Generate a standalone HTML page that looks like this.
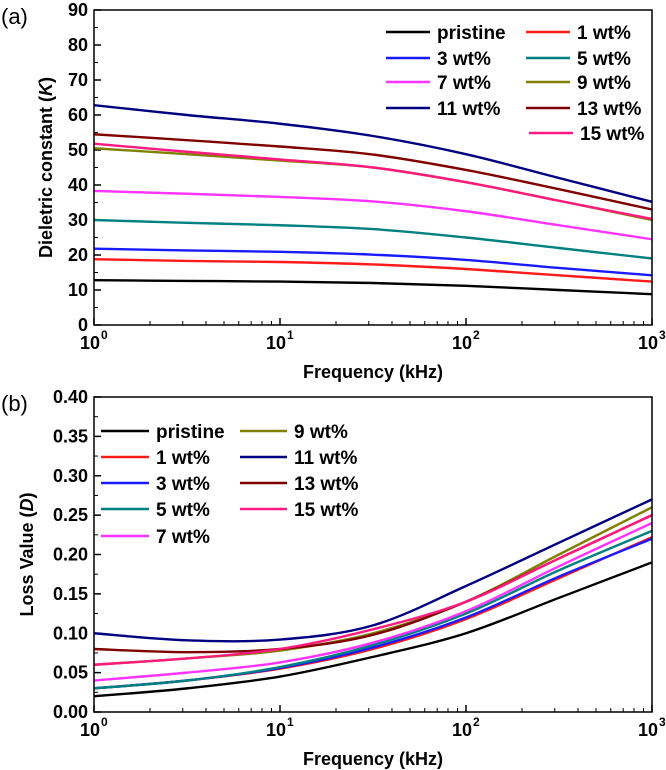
<!DOCTYPE html>
<html><head><meta charset="utf-8"><style>
body{margin:0;background:#fff}
svg{display:block;font-family:"Liberation Sans",Arial,sans-serif}
</style></head><body>
<svg id="s" width="666" height="770" viewBox="0 0 666 770"></svg>
<script>
const names=["pristine","1 wt%","3 wt%","5 wt%","7 wt%","9 wt%","11 wt%","13 wt%","15 wt%"];
const colors=["#000000","#ff1a1a","#1a1aff","#008080","#ff33ff","#808000","#000080","#800000","#ff1a80"];
const kLogF=[0,0.5,1,1.5,2,2.5,3];
const kPristine=[12.8,12.6,12.4,12,11.2,10,8.8];
const k1=[18.8,18.3,18,17.3,16,14.2,12.4];
const k3=[21.8,21.3,20.9,20.1,18.6,16.3,14.2];
const k5=[30,29.2,28.5,27.4,25,22,19];
const k7=[38.3,37.5,36.6,35.3,32.5,28.5,24.5];
const k9=[50.5,48.8,47,45,40.8,35.5,30];
const k11=[62.8,60,57.5,54,48.8,42,35.2];
const k13=[54.5,52.8,51,48.7,44.3,38.8,33];
const k15=[51.8,49.5,47.3,45,40.8,35.5,30.3];
const dLogF=[0,0.5,1,1.5,2,2.5,3];
const dPristine=[0.02,0.03,0.045,0.07,0.10,0.145,0.19];
const d1=[0.03,0.04,0.055,0.08,0.118,0.17,0.222];
const d3=[0.03,0.04,0.056,0.082,0.12,0.172,0.22];
const d5=[0.03,0.04,0.057,0.085,0.125,0.18,0.23];
const d7=[0.04,0.05,0.063,0.088,0.128,0.185,0.24];
const d9=[0.06,0.068,0.078,0.10,0.14,0.20,0.26];
const d11=[0.10,0.091,0.092,0.11,0.16,0.215,0.27];
const d13=[0.08,0.076,0.08,0.098,0.14,0.195,0.25];
const d15=[0.06,0.068,0.08,0.105,0.14,0.195,0.25];
const kTicks=[0,10,20,30,40,50,60,70,80,90];
const dTicks=["0.00","0.05","0.10","0.15","0.20","0.25","0.30","0.35","0.40"];
const xExp=[0,1,2,3];
const NS="http://www.w3.org/2000/svg";
const svg=document.getElementById('s');
function el(t,a,p){const e=document.createElementNS(NS,t);for(const k in a)e.setAttribute(k,a[k]);(p||svg).appendChild(e);return e;}
function path(pts){let d="M"+pts[0][0]+","+pts[0][1];for(let i=0;i<pts.length-1;i++){const p0=pts[Math.max(0,i-1)],p1=pts[i],p2=pts[i+1],p3=pts[Math.min(pts.length-1,i+2)];d+=" C"+(p1[0]+(p2[0]-p0[0])/6)+","+(p1[1]+(p2[1]-p0[1])/6)+" "+(p2[0]-(p3[0]-p1[0])/6)+","+(p2[1]-(p3[1]-p1[1])/6)+" "+p2[0]+","+p2[1];}return d;}
function panel(o){
 const L=94,R=652,T=o.top,B=o.bot;
 const sx=v=>L+(R-L)*v/3, sy=v=>B-(B-T)*(v-o.ymin)/(o.ymax-o.ymin);
 const g=el('g',{});
 o.ticks.forEach((t,i)=>{const y=sy(+t);el('line',{x1:L,x2:L+7,y1:y,y2:y,stroke:'#000','stroke-width':1.5},g);
  const tx=el('text',{x:L-6,y:y+6,'text-anchor':'end','font-size':18,'font-weight':'bold'},g);tx.textContent=t;
  if(i<o.ticks.length-1){const ym=sy((+t+ +o.ticks[i+1])/2);el('line',{x1:L,x2:L+4,y1:ym,y2:ym,stroke:'#000','stroke-width':1},g);}});
 xExp.forEach(e=>{const x=sx(e);el('line',{x1:x,x2:x,y1:B,y2:B-7,stroke:'#000','stroke-width':1.5},g);
  const tx=el('text',{x:x-4,y:B+24,'text-anchor':'middle','font-size':18,'font-weight':'bold'},g);tx.textContent="10";
  const sp=el('text',{x:x+7,y:B+14,'font-size':12,'font-weight':'bold'},g);sp.textContent=e;
  if(e<3)for(let m=2;m<10;m++){const xm=sx(e+Math.log10(m));el('line',{x1:xm,x2:xm,y1:B,y2:B-4,stroke:'#000','stroke-width':1},g);}});
 o.series.forEach((s,i)=>{const p=el('path',{d:path(o.xs.map((x,j)=>[sx(x),sy(s[j])])),fill:'none',stroke:colors[i],'stroke-width':2.4},g);
  });
 el('rect',{x:L,y:T,width:R-L,height:B-T,fill:'none',stroke:'#000','stroke-width':1.5},g);
 const yl=el('text',{transform:`translate(${o.ylx},${(T+B)/2}) rotate(-90)`,'text-anchor':'middle','font-size':18,'font-weight':'bold'},g);
 yl.innerHTML=o.ylab;
 const xl=el('text',{x:(L+R)/2,y:B+53,'text-anchor':'middle','font-size':18,'font-weight':'bold'},g);xl.textContent="Frequency (kHz)";
 
 const pl=el('text',{x:1,y:o.top+14,'font-size':22},g);pl.textContent=o.label;
 
 o.legend.forEach((q,i)=>{const c=q[0],y=q[1],x1=q[2],x2=q[3];
  const lg=el('g',{},g);
  el('line',{x1:x1,x2:x2,y1:y,y2:y,stroke:colors[c],'stroke-width':2.5},lg);
  const t=el('text',{x:x2+7,y:y+7,'font-size':19,'font-weight':'bold'},lg);t.textContent=names[c];});
}
panel({id:'chart-a',top:10,bot:325,ymin:0,ymax:90,ticks:kTicks.map(String),xs:kLogF,
 series:[kPristine,k1,k3,k5,k7,k9,k11,k13,k15],ylx:52,
 ylab:'Dieletric constant (<tspan font-style="italic">K</tspan>)',label:'(a)',
 legend:[[0,32,386,430],[1,32,526,570],[2,58,386,430],[3,58,526,570],[4,82,386,430],[5,82,526,570],[6,108,386,430],[7,108,526,570],[8,133,529,573]]});
panel({id:'chart-b',top:397,bot:712,ymin:0,ymax:0.4,ticks:dTicks,xs:dLogF,
 series:[dPristine,d1,d3,d5,d7,d9,d11,d13,d15],ylx:33,
 ylab:'Loss Value (<tspan font-style="italic">D</tspan>)',label:'(b)',
 legend:[[0,431,101,149],[5,431,240,287],[1,457,101,149],[6,457,240,287],[2,483,101,149],[7,483,240,287],[3,509,101,149],[8,509,240,287],[4,536,101,149]]});
</script>
</body></html>
